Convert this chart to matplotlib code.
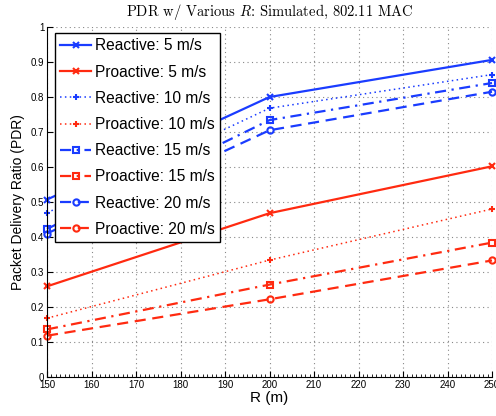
import matplotlib
matplotlib.use("Agg")
import matplotlib.pyplot as plt
from matplotlib.ticker import MultipleLocator

R = [150, 200, 250]
reactive_5 = [0.507, 0.800, 0.906]
proactive_5 = [0.259, 0.468, 0.602]
reactive_10 = [0.469, 0.768, 0.864]
proactive_10 = [0.168, 0.334, 0.480]
reactive_15 = [0.423, 0.734, 0.840]
proactive_15 = [0.136, 0.264, 0.384]
reactive_20 = [0.410, 0.705, 0.815]
proactive_20 = [0.118, 0.222, 0.333]

labels = ["Reactive: 5 m/s", "Proactive: 5 m/s", "Reactive: 10 m/s", "Proactive: 10 m/s",
          "Reactive: 15 m/s", "Proactive: 15 m/s", "Reactive: 20 m/s", "Proactive: 20 m/s"]
series = [reactive_5, proactive_5, reactive_10, proactive_10,
          reactive_15, proactive_15, reactive_20, proactive_20]

blue = "#1a3cff"
red = "#ff2a10"
styles = [
    dict(color=blue, ls="-", marker="x", lw=1.6),
    dict(color=red, ls="-", marker="x", lw=1.6),
    dict(color=blue, ls=(0, (1, 2.2)), marker="+", lw=1.1),
    dict(color=red, ls=(0, (1, 2.2)), marker="+", lw=1.1),
    dict(color=blue, ls=(0, (5, 2.5, 1, 2.5)), marker="s", lw=1.6),
    dict(color=red, ls=(0, (5, 2.5, 1, 2.5)), marker="s", lw=1.6),
    dict(color=blue, ls=(0, (5, 3)), marker="o", lw=1.6),
    dict(color=red, ls=(0, (5, 3)), marker="o", lw=1.6),
]

plt.rcParams['font.family'] = ['Liberation Sans', 'DejaVu Sans']
plt.rcParams['mathtext.fontset'] = 'cm'

fig = plt.figure(figsize=(4.96, 4.16), dpi=100)
ax = fig.add_axes([47/496, 1 - 377/416, 445/496, 350/416])

for y, lab, st in zip(series, labels, styles):
    ax.plot(R, y, label=lab, color=st["color"], linestyle=st["ls"], marker=st["marker"],
            markersize=4.5, markerfacecolor="none", markeredgewidth=1.5, linewidth=st["lw"],
            clip_on=False)

ax.set_xlim(150, 250)
ax.set_ylim(0, 1)
ax.xaxis.set_major_locator(MultipleLocator(10))
ax.xaxis.set_minor_locator(MultipleLocator(1))
ax.set_yticks([0, 0.1, 0.2, 0.3, 0.4, 0.5, 0.6, 0.7, 0.8, 0.9, 1])
ax.set_yticklabels(["0", "0.1", "0.2", "0.3", "0.4", "0.5", "0.6", "0.7", "0.8", "0.9", "1"])
ax.tick_params(axis='both', which='major', direction='in', length=4, labelsize=7, pad=2)
ax.tick_params(axis='x', which='minor', direction='in', length=2)
ax.grid(True, which='major', linestyle=(0, (1, 3)), color="#888888", linewidth=0.8)
ax.spines['top'].set_visible(False)
ax.spines['right'].set_visible(False)

ax.set_xlabel("R (m)", fontsize=11, labelpad=1)
ax.set_ylabel("Packet Delivery Ratio (PDR)", fontsize=10, labelpad=4)
ax.set_title(r"PDR w/ Various $R$: Simulated, 802.11 MAC", fontsize=10.5, pad=8)
ax.title.set_fontfamily(['cmr10', 'DejaVu Serif'])

leg = ax.legend(loc="upper left", bbox_to_anchor=(0.018, 0.983), fontsize=11.2,
                frameon=True, fancybox=False, edgecolor="black", framealpha=1,
                handlelength=1.95, handletextpad=0.25, labelspacing=0.72, borderpad=0.35,
                borderaxespad=0)
leg.get_frame().set_linewidth(1.0)

fig.savefig("out.png", dpi=100)
